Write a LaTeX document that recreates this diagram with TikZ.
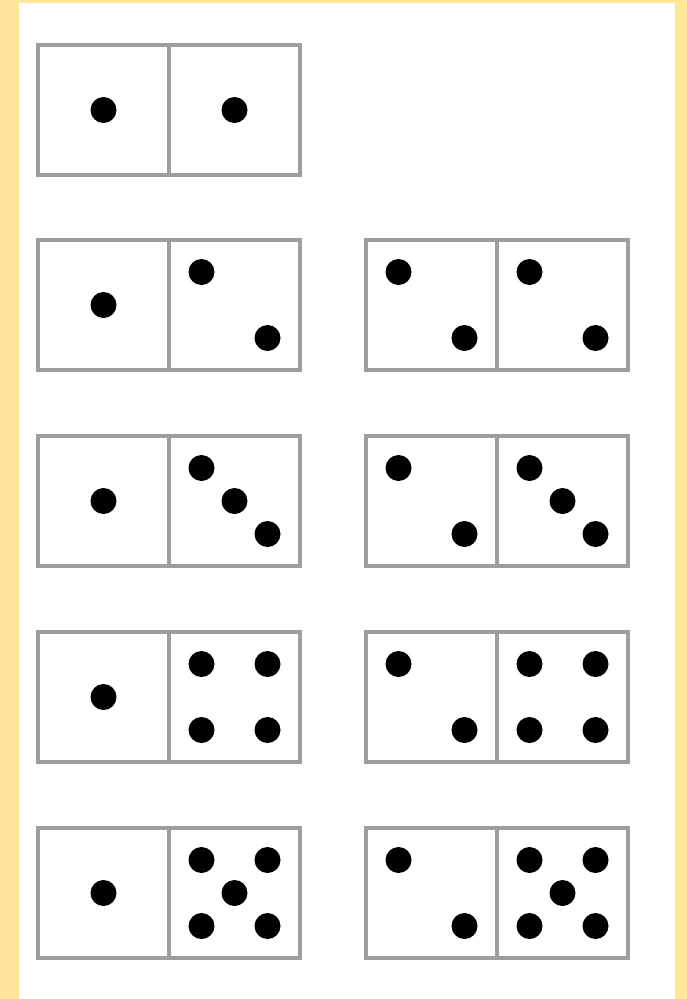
\documentclass[tikz,border=0pt]{standalone}
\usepackage{tikz}
\usetikzlibrary{positioning, calc}
\definecolor{framey}{RGB}{255, 230, 153}
\definecolor{edgegray}{RGB}{158, 158, 158}
\tikzstyle{half} = [
    rectangle,
    draw=edgegray,
    line width=4.5pt,
    fill=white,
    minimum width=131pt,
    minimum height=130pt,
    inner sep=0pt,
    outer sep=0pt
]
\tikzstyle{pip} = [fill=black]
\newcommand{\pipat}[3]{\fill[pip] ($(#1.center)+(#2,#3)$) circle[radius=13pt];}
\newcommand{\pips}[2]{%
    \ifcase#2\or
        \pipat{#1}{0}{0}
    \or
        \pipat{#1}{-33}{-33}\pipat{#1}{33}{33}
    \or
        \pipat{#1}{-33}{-33}\pipat{#1}{0}{0}\pipat{#1}{33}{33}
    \or
        \pipat{#1}{-33}{-33}\pipat{#1}{33}{-33}\pipat{#1}{-33}{33}\pipat{#1}{33}{33}
    \or
        \pipat{#1}{-33}{-33}\pipat{#1}{33}{-33}\pipat{#1}{0}{0}\pipat{#1}{-33}{33}\pipat{#1}{33}{33}
    \fi}

\begin{document}
\begin{tikzpicture}[x=1pt, y=-1pt]
        % Frame
        \fill[framey] (0,0) rectangle (687,999);
        \fill[white] (19,3) rectangle (675,999);
        \useasboundingbox (0,0) rectangle (687,999);

        % Top domino
        \node[half] (r1a) at (103.5, 110) {};
        \node[half, right=0pt of r1a] (r1b) {};
        \pips{r1a}{1}
        \pips{r1b}{1}

        % Other rows: left column 1|n, right column 2|n
        \foreach \r/\y in {2/305, 3/501, 4/697, 5/893} {
            \node[half] (r\r a) at (103.5, \y) {};
            \node[half, right=0pt of r\r a] (r\r b) {};
            \node[half] (r\r c) at (431.5, \y) {};
            \node[half, right=0pt of r\r c] (r\r d) {};
            \pips{r\r a}{1}
            \pips{r\r b}{\r}
            \pips{r\r c}{2}
            \pips{r\r d}{\r}
        }
    \end{tikzpicture}
\end{document}
